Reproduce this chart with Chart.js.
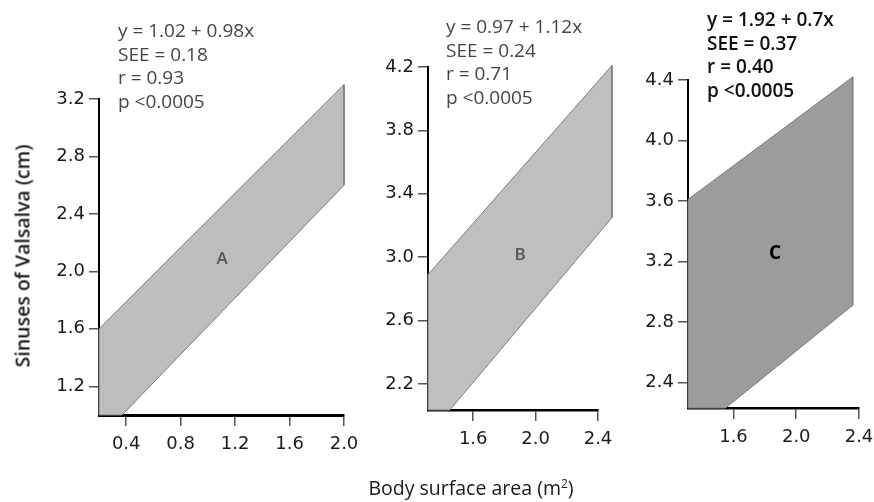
<!DOCTYPE html>
<html>
<head>
<meta charset="utf-8">
<script src="https://cdn.jsdelivr.net/npm/chart.js@4"></script>
<style>
  html, body { margin: 0; padding: 0; background: #fff; }
  #wrap { position: relative; width: 874px; height: 502px; overflow: hidden; font-family: "Open Sans", sans-serif; }
  canvas { position: absolute; left: 0; top: 0; }
  .note { position: absolute; font-size: 19px; line-height: 23.5px; color: #454545; font-weight: 500; white-space: nowrap; }
  .note.dark { color: #111; font-weight: 600; }
  .letter { position: absolute; transform: translate(-50%, -50%); font-size: 17px; font-weight: 600; color: #555; }
  .title { position: absolute; white-space: nowrap; font-size: 19.5px; color: #1a1a1a; font-weight: 500; transform: translate(-50%, -50%); }
</style>
</head>
<body>
<div id="wrap">
  <canvas id="cA" width="874" height="502"></canvas>
  <canvas id="cB" width="874" height="502"></canvas>
  <canvas id="cC" width="874" height="502"></canvas>

  <div class="note" style="left:118px; top:19px;">y = 1.02 + 0.98x<br>SEE = 0.18<br>r = 0.93<br>p &lt;0.0005</div>
  <div class="note" style="left:446px; top:15px;">y = 0.97 + 1.12x<br>SEE = 0.24<br>r = 0.71<br>p &lt;0.0005</div>
  <div class="note dark" style="left:707px; top:8px;">y = 1.92 + 0.7x<br>SEE = 0.37<br>r = 0.40<br>p &lt;0.0005</div>

  <div class="letter" style="left:222px; top:257px;">A</div>
  <div class="letter" style="left:520px; top:253px;">B</div>
  <div class="letter" style="left:775px; top:252px; color:#000; font-weight:700; font-size:19px;">C</div>

  <div class="title" style="left:471px; top:487px;">Body surface area (m<sup style="font-size:12px; vertical-align:7px; line-height:0;">2</sup>)</div>
  <div class="title" style="left:22px; top:256px; transform: translate(-50%, -50%) rotate(-90deg); font-weight:600;">Sinuses of Valsalva (cm)</div>
</div>
<script>
// ---- Panel A ----
const bandA_x = [0.2, 0.2, 2.0, 2.0, 0.37, 0.2];
const bandA_y = [1.0, 1.6, 3.30, 2.60, 1.0, 1.0];
const xTicksA = [0.4, 0.8, 1.2, 1.6, 2.0];
const yTicksA = [1.2, 1.6, 2.0, 2.4, 2.8, 3.2];
const xRangeA = [0.2, 2.0];
const yRangeA = [1.0, 3.2];

// ---- Panel B ----
const bandB_x = [1.31, 1.31, 2.49, 2.49, 1.45, 1.31];
const bandB_y = [2.036, 2.89, 4.21, 3.25, 2.036, 2.036];
const xTicksB = [1.6, 2.0, 2.4];
const yTicksB = [2.2, 2.6, 3.0, 3.4, 3.8, 4.2];
const xRangeB = [1.31, 2.4];
const yRangeB = [2.036, 4.2];

// ---- Panel C ----
const bandC_x = [1.31, 1.31, 2.36, 2.36, 1.55, 1.31];
const bandC_y = [2.231, 3.61, 4.42, 2.91, 2.231, 2.231];
const xTicksC = [1.6, 2.0, 2.4];
const yTicksC = [2.4, 2.8, 3.2, 3.6, 4.0, 4.4];
const xRangeC = [1.31, 2.4];
const yRangeC = [2.231, 4.4];

function pts(xs, ys) { return xs.map((x, i) => ({ x: x, y: ys[i] })); }

// let the band's fill run past the axis ends, as in the printed figure
const unclipFill = {
  id: 'unclipFill',
  beforeDatasetsDraw(chart) {
    chart.$savedArea = chart.chartArea;
    chart.chartArea = { left: 0, top: 0, right: chart.width, bottom: chart.height,
                        width: chart.width, height: chart.height };
  },
  afterDatasetsDraw(chart) {
    if (chart.$savedArea) chart.chartArea = chart.$savedArea;
  }
};

function makeChart(id, bx, by, xt, yt, xr, yr, fillColor, pad, xBorderW) {
  const font = { family: "DejaVu Sans", size: 18 };
  return new Chart(document.getElementById(id), {
    type: 'line',
    data: {
      datasets: [{
        data: pts(bx, by),
        fill: 'shape',
        backgroundColor: fillColor,
        borderColor: '#7d7d7d',
        borderWidth: 1,
        pointRadius: 0,
        tension: 0,
        clip: false
      }]
    },
    plugins: [unclipFill],
    options: {
      responsive: false,
      devicePixelRatio: 1,
      animation: false,
      events: [],
      layout: { padding: pad },
      plugins: { legend: { display: false }, tooltip: { enabled: false } },
      scales: {
        x: {
          type: 'linear', min: xr[0], max: xr[1], z: 1,
          afterBuildTicks: s => { s.ticks = xt.map(v => ({ value: v })); },
          afterFit: s => { s.height = 40; s.paddingLeft = 0; s.paddingRight = 0; },
          ticks: { font: font, color: '#1a1a1a', padding: 8, maxRotation: 0, autoSkip: false,
                   callback: v => Number(v).toFixed(1) },
          grid: { drawOnChartArea: false, drawTicks: true, tickLength: 11, color: '#555', lineWidth: 1.5 },
          border: { display: true, color: '#000', width: xBorderW }
        },
        y: {
          type: 'linear', min: yr[0], max: yr[1], z: 1,
          afterBuildTicks: s => { s.ticks = yt.map(v => ({ value: v })); },
          afterFit: s => { s.width = 60; s.paddingTop = 0; s.paddingBottom = 0; },
          ticks: { font: font, color: '#1a1a1a', padding: 4, autoSkip: false,
                   callback: v => Number(v).toFixed(1) },
          grid: { drawOnChartArea: false, drawTicks: true, tickLength: 10, color: '#555', lineWidth: 1.5 },
          border: { display: true, color: '#000', width: 2 }
        }
      }
    }
  });
}

makeChart('cA', bandA_x, bandA_y, xTicksA, yTicksA, xRangeA, yRangeA, '#bdbdbd',
  { left: 39, right: 530, top: 99, bottom: 47 }, 3);
makeChart('cB', bandB_x, bandB_y, xTicksB, yTicksB, xRangeB, yRangeB, '#bfbfbf',
  { left: 368, right: 276, top: 67, bottom: 52 }, 2.5);
makeChart('cC', bandC_x, bandC_y, xTicksC, yTicksC, xRangeC, yRangeC, '#9c9c9c',
  { left: 628, right: 15, top: 80, bottom: 54 }, 2.5);
</script>
</body>
</html>
